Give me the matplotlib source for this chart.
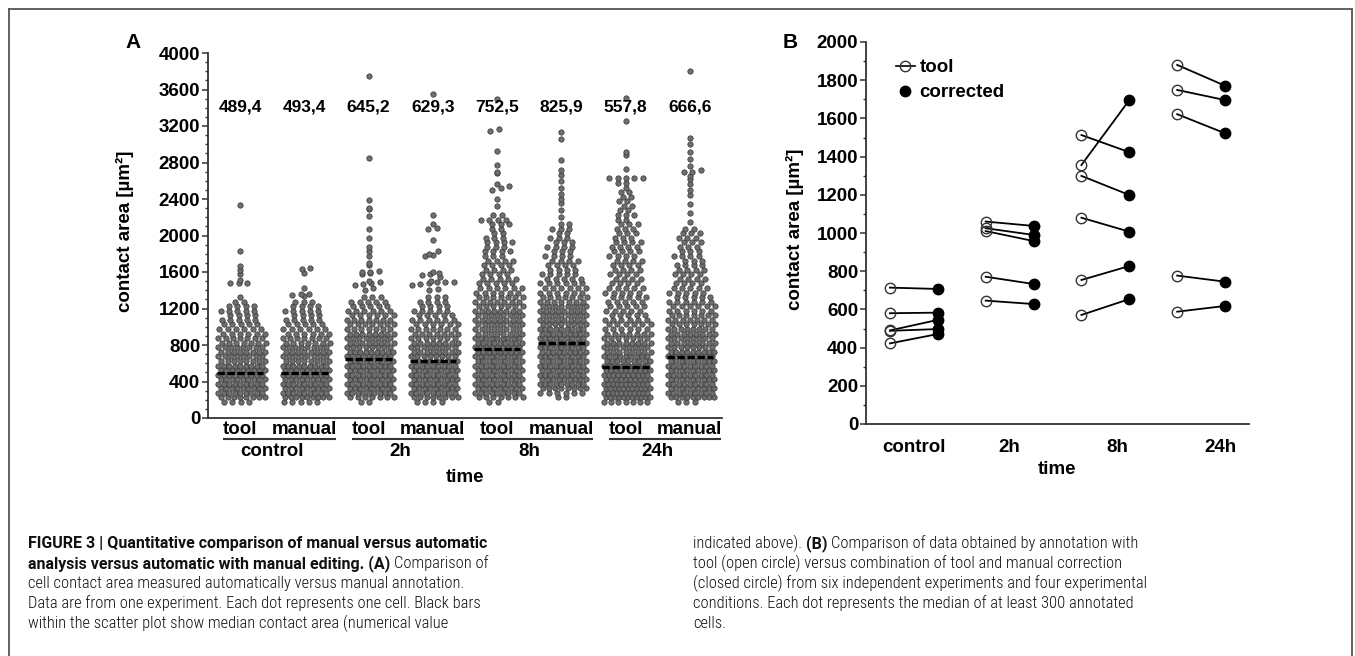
import numpy as np
import matplotlib
matplotlib.use("Agg")
import matplotlib.pyplot as plt
from matplotlib.lines import Line2D
from matplotlib import font_manager

W, H = 1355, 656

# ---- panel A: contact area per cell, one experiment ----
a_conditions = ["control", "2h", "8h", "24h"]
a_methods = ["tool", "manual"]
a_medians = [489.4, 493.4, 645.2, 629.3, 752.5, 825.9, 557.8, 666.6]

# dots per 50 um2 band, first band starts at 150
band_start = 150
band_width = 50

control_tool = [4, 8, 9, 9, 9, 9, 9, 9, 9, 8, 8, 8, 8, 7, 7, 6, 6, 5, 5, 4, 5, 4, 2]
control_tool_out = [1330, 1475, 1478, 1480, 1512, 1574, 1621, 1665, 1830, 2330]

control_manual = [5, 9, 9, 9, 9, 9, 9, 9, 9, 8, 8, 8, 8, 7, 7, 6, 6, 5, 5, 4, 5, 4, 3]
control_manual_out = [1340, 1350, 1355, 1360, 1430, 1590, 1630, 1645]

h2_tool = [2, 7, 9, 9, 9, 9, 9, 9, 9, 9, 9, 9, 8, 8, 8, 8, 7, 7, 7, 6, 6, 5, 5, 3]
h2_tool_out = [1400, 1420, 1460, 1470, 1480, 1490, 1500, 1580, 1590, 1600, 1600, 1610, 1680,
               1700, 1770, 1830, 1870, 1970, 2070, 2210, 2290, 2300, 2390, 2850, 3750]

h2_manual = [4, 8, 9, 9, 9, 9, 9, 9, 9, 9, 8, 8, 8, 8, 7, 7, 7, 6, 6, 5, 5, 4, 4, 3]
h2_manual_out = [1400, 1410, 1460, 1470, 1480, 1485, 1490, 1495, 1500, 1540, 1570, 1580, 1590,
                 1600, 1780, 1790, 1800, 1830, 1950, 2070, 2080, 2130, 2230, 3550]

h8_tool = [2, 7, 9, 9, 9, 9, 9, 9, 9, 9, 9, 9, 9, 9, 9, 8, 8, 8, 8, 8, 8, 7, 7, 7, 6, 6,
           5, 5, 4, 4, 4, 4, 3, 4, 3, 4, 3, 2, 2, 3, 4, 2]
h8_tool_out = [2320, 2400, 2500, 2520, 2540, 2560, 2690, 2700, 2770, 2930, 3150, 3170, 3500]

h8_manual = [0, 2, 6, 8, 9, 9, 9, 9, 9, 9, 9, 9, 9, 9, 9, 9, 9, 8, 8, 8, 8, 8, 7, 7, 6, 6,
             6, 5, 5, 4, 4, 4, 4, 3, 4, 3, 3, 2, 3, 2]
h8_manual_out = [2200, 2280, 2360, 2400, 2460, 2520, 2600, 2660, 2720, 2830, 3060, 3130]

h24_tool = [7, 11, 11, 11, 11, 10, 10, 10, 10, 9, 9, 8, 8, 8, 7, 7, 6, 6, 6, 5, 5, 5, 5, 5,
            5, 5, 4, 4, 4, 4, 4, 4, 4, 4, 4, 4, 3, 3, 3, 3, 2, 3, 2, 2, 2, 2, 2, 1, 2, 5, 0, 1]
h24_tool_out = [2880, 2920, 3260, 3510]

h24_manual = [3, 9, 9, 9, 9, 9, 9, 9, 9, 9, 9, 9, 8, 8, 8, 8, 8, 7, 7, 7, 6, 6, 6, 5, 5, 5,
              4, 4, 4, 4, 4, 3, 4, 3, 3, 3, 3, 3, 2]
h24_manual_out = [2150, 2250, 2350, 2440, 2500, 2560, 2620, 2650, 2700, 2700, 2720, 2760,
                  2840, 2920, 3000, 3070, 3800]

a_counts = [control_tool, control_manual, h2_tool, h2_manual,
            h8_tool, h8_manual, h24_tool, h24_manual]
a_outliers = [control_tool_out, control_manual_out, h2_tool_out, h2_manual_out,
              h8_tool_out, h8_manual_out, h24_tool_out, h24_manual_out]

# ---- panel B: medians of six experiments ----
b_conditions = ["control", "2h", "8h", "24h"]
b_tool = [[714, 580, 490, 488, 422],
          [1060, 1025, 1010, 771, 646],
          [1513, 1356, 1299, 1080, 754, 571],
          [1880, 1749, 1622, 777, 588]]
b_corrected = [[707, 583, 545, 497, 471],
               [1037, 990, 958, 733, 628],
               [1423, 1696, 1199, 1007, 827, 654],
               [1771, 1696, 1522, 745, 618]]

caption_left = [
    [("FIGURE 3 | Quantitative comparison of manual versus automatic", "bold")],
    [("analysis versus automatic with manual editing. (A)", "bold"), ("Comparison of", "normal")],
    [("cell contact area measured automatically versus manual annotation.", "normal")],
    [("Data are from one experiment. Each dot represents one cell. Black bars", "normal")],
    [("within the scatter plot show median contact area (numerical value", "normal")],
]
caption_right = [
    [("indicated above).", "normal"), ("(B)", "bold"),
     ("Comparison of data obtained by annotation with", "normal")],
    [("tool (open circle) versus combination of tool and manual correction", "normal")],
    [("(closed circle) from six independent experiments and four experimental", "normal")],
    [("conditions. Each dot represents the median of at least 300 annotated", "normal")],
    [("cells.", "normal")],
]

plt.rcParams["font.family"] = ["Liberation Sans", "DejaVu Sans"]
bold = dict(fontsize=13.5, fontweight="bold", color="black")
spine_col = "#333333"
sparse_phase = [0.0, 0.5, 0.25, 0.75, 0.125, 0.625, 0.375, 0.875]


def swarm(pos, counts, extra, max_step=0.13, half_width=0.34):
    values = []
    for i, n in enumerate(counts):
        values += [band_start + band_width * (i + 0.5)] * n
    values = np.array(values + list(extra), dtype=float)
    band = ((values - band_start) // band_width).astype(int)
    xs, ys = [], []
    for b in np.unique(band):
        v = np.sort(values[band == b])
        n = len(v)
        step = 0 if n == 1 else min(max_step, 2 * half_width / (n - 1))
        off = (np.arange(n) - (n - 1) / 2) * step
        if n >= 6:
            off = off + step / 2 * (b % 2)  # staggered rows in the dense part
        elif n >= 2:
            off = off + step * (sparse_phase[b % 8] - 0.44)
        xs += list(pos + off)
        ys += list(v)
    return xs, ys


def style_axes(ax, ymax, major, minor):
    for s in ["top", "right"]:
        ax.spines[s].set_visible(False)
    for s in ["left", "bottom"]:
        ax.spines[s].set_color(spine_col)
        ax.spines[s].set_linewidth(1.3)
    ax.set_ylim(0, ymax)
    ax.set_yticks(np.arange(0, ymax + 1, major))
    ax.set_yticks(np.arange(0, ymax + 1, minor), minor=True)
    ax.set_xticks([])
    ax.tick_params(axis="y", which="major", length=4, width=1.1, color=spine_col, pad=1.5,
                   labelsize=13.5)
    ax.tick_params(axis="y", which="minor", length=2.5, width=1.0, color=spine_col)
    for lab in ax.get_yticklabels():
        lab.set_fontweight("bold")


fig = plt.figure(figsize=(W / 100, H / 100), dpi=100)

# ---------------- panel A ----------------
a_top, a_bot = 53, 418
ax_a = fig.add_axes([208 / W, 1 - a_bot / H, 514 / W, (a_bot - a_top) / H])
style_axes(ax_a, 4000, 400, 100)
ax_a.set_xlim(0.5, 8.5)

for k in range(len(a_counts)):
    pos = k + 1
    xs, ys = swarm(pos, a_counts[k], a_outliers[k])
    ax_a.scatter(xs, ys, s=15, c="#6e6e6e", edgecolors="#363636", linewidths=0.5, zorder=2)
    ax_a.plot([pos - 0.36, pos + 0.36], [a_medians[k]] * 2, color="black", lw=2.4,
              ls=(0, (2.2, 0.8)), zorder=3, solid_capstyle="butt")
    ax_a.text(pos, 3410, f"{a_medians[k]:.1f}".replace(".", ","), ha="center", va="center",
              fontsize=12.5, fontweight="bold")


def fy_a(py):
    return (a_bot - py) / (a_bot - a_top)


xa = ax_a.get_xaxis_transform()
for i, cond in enumerate(a_conditions):
    p_tool, p_man = 2 * i + 1, 2 * i + 2
    for p, m in zip((p_tool, p_man), a_methods):
        ax_a.text(p, fy_a(430), m, transform=xa, ha="center", va="center", **bold)
    ax_a.plot([p_tool - 0.25, p_man + 0.47], [fy_a(439)] * 2, transform=xa,
              color=spine_col, lw=1.5, clip_on=False)
    ax_a.text((p_tool + p_man) / 2, fy_a(451), cond, transform=xa, ha="center", va="center", **bold)
ax_a.text(4.5, fy_a(478), "time", transform=xa, ha="center", va="center", **bold)

fig.text(133 / W, 1 - 43 / H, "A", ha="center", va="center", fontsize=15, fontweight="bold")
fig.text(125 / W, 1 - 231 / H, "contact area [µm²]", rotation=90, ha="center", va="center", **bold)

# ---------------- panel B ----------------
b_top, b_bot = 42, 424
ax_b = fig.add_axes([866 / W, 1 - b_bot / H, 383 / W, (b_bot - b_top) / H])
style_axes(ax_b, 2000, 200, 100)
ax_b.set_xlim(0.5, 4.5)

for i in range(len(b_conditions)):
    c = i + 1
    for t, k in zip(b_tool[i], b_corrected[i]):
        ax_b.plot([c - 0.25, c + 0.25], [t, k], color="black", lw=1.3, zorder=2)
    ax_b.plot([c - 0.25] * len(b_tool[i]), b_tool[i], "o", ms=7.5, mfc="none", mec="#333333",
              mew=1.0, zorder=3)
    ax_b.plot([c + 0.25] * len(b_corrected[i]), b_corrected[i], "o", ms=7.5, mfc="black",
              mec="black", zorder=3)


def fy_b(py):
    return (b_bot - py) / (b_bot - b_top)


xb = ax_b.get_xaxis_transform()
label_shift = [0.0, 0.0, 0.12, 0.2]
for i, cond in enumerate(b_conditions):
    ax_b.text(i + 1 + label_shift[i], fy_b(448), cond, transform=xb, ha="center", va="center", **bold)
ax_b.text(2.5, fy_b(470), "time", transform=xb, ha="center", va="center", **bold)

handles = [Line2D([], [], color="black", lw=1.2, marker="o", ms=7.5, mfc="none", mec="#333333"),
           Line2D([], [], color="black", ls="none", marker="o", ms=7.5)]
ax_b.legend(handles, ["tool", "corrected"], loc="upper left", bbox_to_anchor=(0.078, 0.955),
            frameon=False, borderpad=0, borderaxespad=0, handlelength=1.0, handletextpad=0.25,
            labelspacing=0.42, prop=dict(size=13.5, weight="bold"))

fig.text(790 / W, 1 - 43 / H, "B", ha="center", va="center", fontsize=15, fontweight="bold")
fig.text(795 / W, 1 - 229 / H, "contact area [µm²]", rotation=90, ha="center", va="center", **bold)

# ---------------- frame ----------------
fr = dict(color="#555555", lw=1.3, transform=fig.transFigure)
fig.add_artist(Line2D([9 / W, 1352 / W], [1 - 9 / H] * 2, **fr))
fig.add_artist(Line2D([9 / W] * 2, [1 - 9 / H, 0], **fr))
fig.add_artist(Line2D([1352 / W] * 2, [1 - 9 / H, 0], **fr))

# ---------------- caption ----------------
installed = font_manager.fontManager.ttflist
names = {f.name for f in installed}
reg_font, bold_font = "Liberation Sans", "Liberation Sans"
if "Liberation Sans Narrow" in names:
    reg_font = bold_font = "Liberation Sans Narrow"
elif "Roboto Condensed" in names:
    reg_font = "Roboto Condensed"
    bold_font = "Roboto" if "Roboto" in names else "Roboto Condensed"
renderer = fig.canvas.get_renderer()
cap_weight = {"normal": "light", "bold": "bold"}
cap_family = {"normal": reg_font, "bold": bold_font}


def text_width(s, size, kind):
    t = fig.text(0, 0, s, fontsize=size, fontweight=cap_weight[kind], family=cap_family[kind])
    w = t.get_window_extent(renderer).width
    t.remove()
    return w


cap_size = {"normal": 10 * 454 / text_width(caption_left[3][0][0], 10, "normal")}
cap_size["bold"] = min(cap_size["normal"] * 1.05,
                       10 * 460 / text_width(caption_left[0][0][0], 10, "bold"))
space_w = text_width("x x", cap_size["normal"], "normal") - text_width("xx", cap_size["normal"], "normal")


def caption_block(x0, lines):
    for row, parts in enumerate(lines):
        y = 548 + 20 * row
        x = x0
        for j, (s, kind) in enumerate(parts):
            if j > 0:
                x += space_w
            fig.text(x / W, 1 - y / H, s, fontsize=cap_size[kind], fontweight=cap_weight[kind],
                     family=cap_family[kind], ha="left", va="baseline", color="#111111")
            x += text_width(s, cap_size[kind], kind)


caption_block(28, caption_left)
caption_block(693, caption_right)

fig.savefig("out.png", dpi=100)
